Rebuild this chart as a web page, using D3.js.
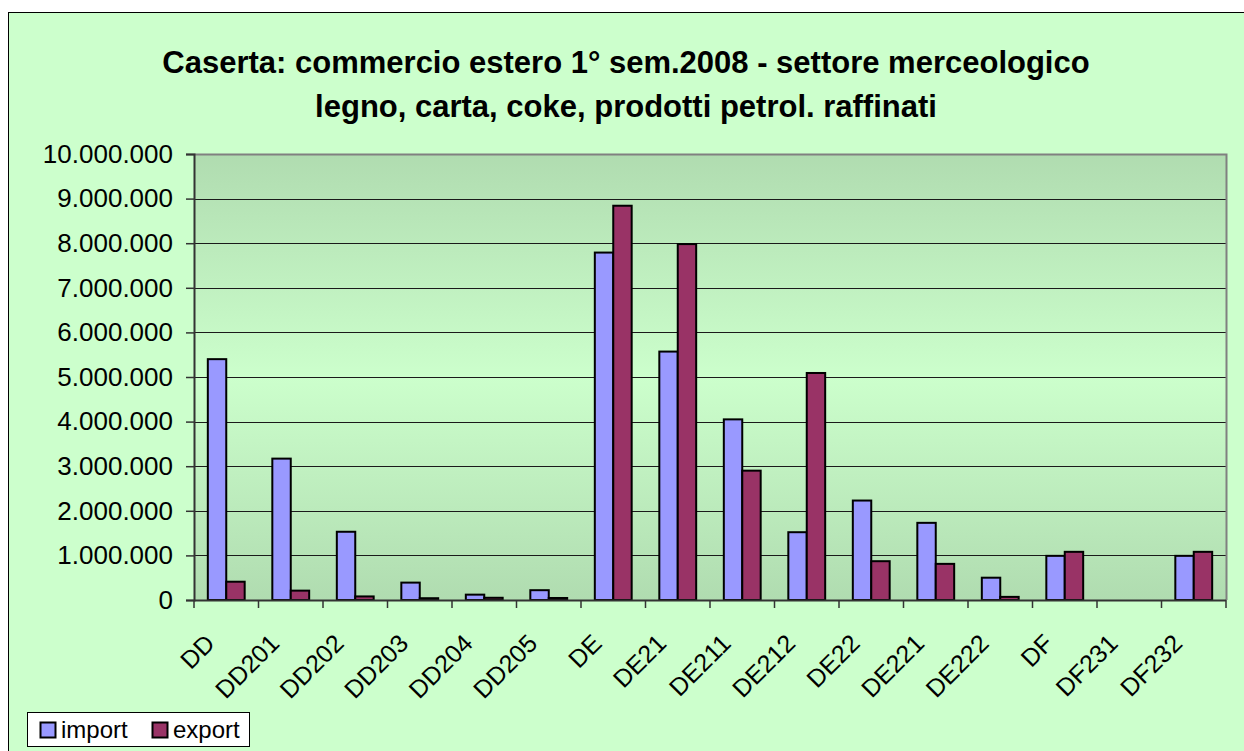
<!DOCTYPE html>
<html><head><meta charset="utf-8">
<script src="https://d3js.org/d3.v7.min.js"></script>
<style>body{margin:0;background:#fff}svg{display:block}</style>
</head><body>
<script>
const categories = ["DD","DD201","DD202","DD203","DD204","DD205","DE","DE21","DE211","DE212","DE22","DE221","DE222","DF","DF231","DF232"];
const importValues = [5400000,3170000,1530000,390000,120000,220000,7790000,5570000,4050000,1520000,2230000,1730000,500000,990000,0,990000];
const exportValues = [410000,210000,80000,40000,50000,45000,8840000,7980000,2900000,5090000,870000,810000,70000,1080000,0,1080000];
const seriesNames = ["import","export"];
const seriesColors = ["#9999ff","#993366"];
const yTicks = [0,1000000,2000000,3000000,4000000,5000000,6000000,7000000,8000000,9000000,10000000];
const titleLines = ["Caserta: commercio estero 1° sem.2008 - settore merceologico","legno, carta, coke, prodotti petrol. raffinati"];

const W=1244,H=751;
const font="'Liberation Sans', Arial, sans-serif";
const svg=d3.select("body").append("svg").attr("width",W).attr("height",H);

// outer chart area
svg.append("rect").attr("x",8.5).attr("y",12.5).attr("width",W+10).attr("height",H+10)
  .attr("fill","#ccffcc").attr("stroke","#000").attr("stroke-width",1);

const plot={l:194,t:154,r:1226,b:600};
const defs=svg.append("defs");
const grad=defs.append("linearGradient").attr("id","pg").attr("x1",0).attr("y1",0).attr("x2",0).attr("y2",1);
grad.append("stop").attr("offset","0%").attr("stop-color","#b0dcb0");
grad.append("stop").attr("offset","50%").attr("stop-color","#ccffcc");
grad.append("stop").attr("offset","100%").attr("stop-color","#b0dcb0");
svg.append("rect").attr("x",plot.l).attr("y",plot.t).attr("width",plot.r-plot.l).attr("height",plot.b-plot.t)
  .attr("fill","url(#pg)");

const x=d3.scaleBand().domain(categories).range([plot.l,plot.r]).paddingInner(0).paddingOuter(0);
const bw=x.bandwidth()/3.5;
const y=d3.scaleLinear().domain([0,10000000]).range([plot.b,plot.t]);

// gridlines
svg.append("g").selectAll("line").data(yTicks.filter(d=>d>0)).join("line")
  .attr("x1",plot.l).attr("x2",plot.r).attr("y1",d=>Math.round(y(d))+0.5).attr("y2",d=>Math.round(y(d))+0.5)
  .attr("stroke","#1a1a1a").attr("stroke-width",1);

// plot border top/right
svg.append("path").attr("d",`M${plot.l},${plot.t+0.5}H${plot.r+0.5}V${plot.b}`)
  .attr("fill","none").attr("stroke","#808080").attr("stroke-width",2);

// bars
const fmt=v=>d3.format(",")(v).replace(/,/g,".");
const data=[importValues,exportValues];
data.forEach((vals,si)=>{
  svg.append("g").selectAll("rect").data(categories.map((c,i)=>({c,v:vals[i]})).filter(d=>d.v>0)).join("rect")
    .attr("x",d=>x(d.c)+0.75*bw+si*bw)
    .attr("y",d=>y(d.v))
    .attr("width",bw)
    .attr("height",d=>y(0)-y(d.v))
    .attr("fill",seriesColors[si]).attr("stroke","#000").attr("stroke-width",2);
});

// y axis
const ya=svg.append("g").attr("transform",`translate(${plot.l},0)`)
  .call(d3.axisLeft(y).tickValues(yTicks).tickFormat(fmt).tickSize(8).tickPadding(13));
ya.select(".domain").attr("stroke","#333").attr("stroke-width",2);
ya.selectAll(".tick line").attr("stroke","#333").attr("stroke-width",1.5);
ya.selectAll("text").attr("font-family",font).attr("font-size",26).attr("fill","#000");

// x axis
const xa=svg.append("g").attr("transform",`translate(0,${plot.b})`);
xa.append("line").attr("x1",plot.l).attr("x2",plot.r).attr("y1",0.5).attr("y2",0.5).attr("stroke","#333").attr("stroke-width",2);
const bounds=categories.map(c=>x(c)).concat([plot.r]);
xa.selectAll("line.tk").data(bounds).join("line").attr("class","tk")
  .attr("x1",d=>d).attr("x2",d=>d).attr("y1",0).attr("y2",8).attr("stroke","#333").attr("stroke-width",1.5);
xa.selectAll("text").data(categories).join("text")
  .attr("transform",d=>`translate(${x(d)+x.bandwidth()/2-10},45) rotate(-45)`)
  .attr("text-anchor","end").attr("font-family",font).attr("font-size",25).attr("fill","#000")
  .text(d=>d);

// title
svg.append("g").selectAll("text").data(titleLines).join("text")
  .attr("x",626).attr("y",(d,i)=>73+i*44).attr("text-anchor","middle")
  .attr("font-family",font).attr("font-weight","bold").attr("font-size",31).attr("fill","#000")
  .text(d=>d);

// legend
const lg=svg.append("g");
lg.append("rect").attr("x",27.5).attr("y",712.5).attr("width",222).attr("height",34).attr("fill","#fff").attr("stroke","#000");
const lx=[40,152];
seriesNames.forEach((n,i)=>{
  lg.append("rect").attr("x",lx[i]+0.5).attr("y",722.5).attr("width",15).attr("height",15)
    .attr("fill",seriesColors[i]).attr("stroke","#000").attr("stroke-width",2);
  lg.append("text").attr("x",lx[i]+21).attr("y",738).attr("font-family",font).attr("font-size",24).text(n);
});
</script>
</body></html>
